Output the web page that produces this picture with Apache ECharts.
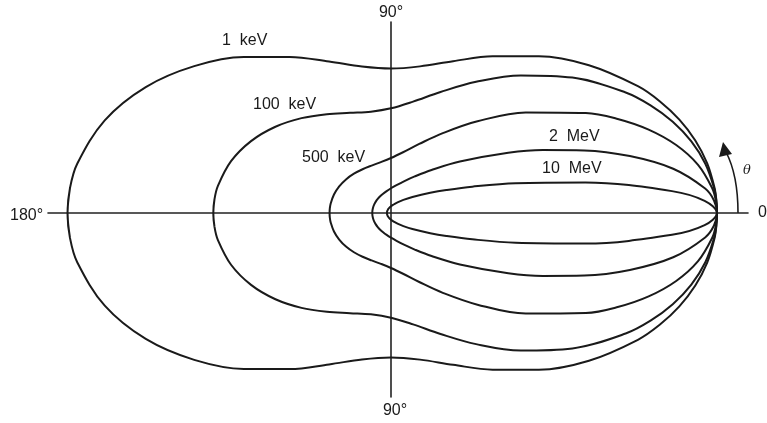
<!DOCTYPE html>
<html>
<head>
<meta charset="utf-8">
<script src="https://cdn.jsdelivr.net/npm/echarts@6/dist/echarts.min.js"></script>
<style>
  html, body { margin: 0; padding: 0; background: #fff; }
  #chart { width: 767px; height: 423px; }
</style>
</head>
<body>
<div id="chart"></div>
<script>
// Scattering angle (degrees) at which each relative cross-section is given
const angles = [0, 2.5, 5, 10, 15, 20, 25, 30, 40, 50, 60, 70, 80, 90, 100, 110, 120, 130, 140, 150, 160, 170, 175, 180];

// Relative differential cross-section (1 at 0°) for each photon energy
const r1keV   = [1.000, 0.9990, 0.9962, 0.9849, 0.9664, 0.9413, 0.9104, 0.8745, 0.7927, 0.7056, 0.6238, 0.5571, 0.5134, 0.4980, 0.5127, 0.5556, 0.6213, 0.7020, 0.7879, 0.8686, 0.9344, 0.9773, 0.9884, 0.9922];
const r100keV = [1.000, 0.9987, 0.9947, 0.9791, 0.9538, 0.9198, 0.8784, 0.8312, 0.7264, 0.6193, 0.5222, 0.4441, 0.3900, 0.3609, 0.3548, 0.3675, 0.3934, 0.4270, 0.4627, 0.4957, 0.5221, 0.5391, 0.5435, 0.5450];
const r500keV = [1.000, 0.9972, 0.9888, 0.9564, 0.9057, 0.8410, 0.7674, 0.6899, 0.5395, 0.4128, 0.3180, 0.2533, 0.2127, 0.1896, 0.1781, 0.1740, 0.1743, 0.1768, 0.1802, 0.1834, 0.1861, 0.1878, 0.1883, 0.1884];
const r2MeV   = [1.000, 0.9917, 0.9673, 0.8790, 0.7585, 0.6310, 0.5139, 0.4154, 0.2758, 0.1937, 0.1456, 0.1163, 0.0976, 0.0853, 0.0768, 0.0707, 0.0664, 0.0632, 0.0609, 0.0593, 0.0582, 0.0576, 0.0574, 0.0574];
const r10MeV  = [1.000, 0.9630, 0.8652, 0.6055, 0.3959, 0.2653, 0.1873, 0.1391, 0.0859, 0.0590, 0.0435, 0.0339, 0.0276, 0.0232, 0.0201, 0.0178, 0.0161, 0.0148, 0.0139, 0.0133, 0.0128, 0.0125, 0.0125, 0.0125];

const energyNames = ['1  keV', '100  keV', '500  keV', '2  MeV', '10  MeV'];
const curves = [r1keV, r100keV, r500keV, r2MeV, r10MeV];

// Direction labels around the plot
const dirLeft = '180°';
const dirRight = '0°';
const dirUp = '90°';
const dirDown = '90°';
const thetaName = 'θ';

// Turn one r(θ) list into a closed outline: upper half from 180° to 0°,
// lower half back to 180°, overlapping one step so the join stays smooth.
function outline(r) {
  const n = angles.length;
  const order = [[n - 2, -1]];
  for (let i = n - 1; i >= 0; i--) order.push([i, 1]);
  for (let i = 1; i < n; i++) order.push([i, -1]);
  order.push([n - 2, 1]);
  return order.map(([i, s]) => {
    const t = angles[i] * Math.PI / 180;
    return [r[i] * Math.cos(t), s * r[i] * Math.sin(t)];
  });
}

const ink = '#1a1a1a';
const font = 'Liberation Sans, Arial, sans-serif';

function label(text, x, y, align) {
  return {
    type: 'text', x: x, y: y, silent: true,
    style: { text: text, fontSize: 16, fontFamily: font, fill: ink, align: align || 'left', verticalAlign: 'middle' }
  };
}

const chart = echarts.init(document.getElementById('chart'), null, { renderer: 'canvas' });

chart.setOption({
  animation: false,
  backgroundColor: '#ffffff',
  grid: { left: 48, top: 22, width: 700, height: 375, containLabel: false },
  xAxis: {
    type: 'value', min: -1.0521, max: 1.0951,
    axisLine: { show: true, onZero: true, lineStyle: { color: '#222', width: 1.6 } },
    axisTick: { show: false }, axisLabel: { show: false }, splitLine: { show: false }
  },
  yAxis: {
    type: 'value', min: -0.6345, max: 0.6586,
    axisLine: { show: true, onZero: true, lineStyle: { color: '#222', width: 1.6 } },
    axisTick: { show: false }, axisLabel: { show: false }, splitLine: { show: false }
  },
  series: curves.map((r, k) => ({
    name: energyNames[k],
    type: 'line',
    data: outline(r),
    smooth: 0.35,
    showSymbol: false,
    silent: true,
    lineStyle: { color: ink, width: 2 }
  })),
  graphic: [
    label(energyNames[0], 222, 41),
    label(energyNames[1], 253, 105),
    label(energyNames[2], 302, 158),
    label(energyNames[3], 549, 137),
    label(energyNames[4], 542, 169),
    label(dirLeft, 10, 216),
    label(dirRight, 758, 213),
    label(dirUp, 391, 13, 'center'),
    label(dirDown, 395, 411, 'center'),
    {
      type: 'bezierCurve', silent: true,
      shape: { x1: 738, y1: 213, cpx1: 738, cpy1: 175, x2: 726, y2: 152 },
      style: { stroke: ink, lineWidth: 1.6, fill: null }
    },
    {
      type: 'polygon', silent: true,
      shape: { points: [[723, 142], [719, 157], [732, 154]] },
      style: { fill: ink }
    },
    {
      type: 'text', x: 747, y: 171, silent: true,
      style: { text: thetaName, fontSize: 13, fontStyle: 'italic', fontFamily: 'DejaVu Serif, serif', fill: ink, align: 'center', verticalAlign: 'middle' }
    }
  ]
});
</script>
</body>
</html>
